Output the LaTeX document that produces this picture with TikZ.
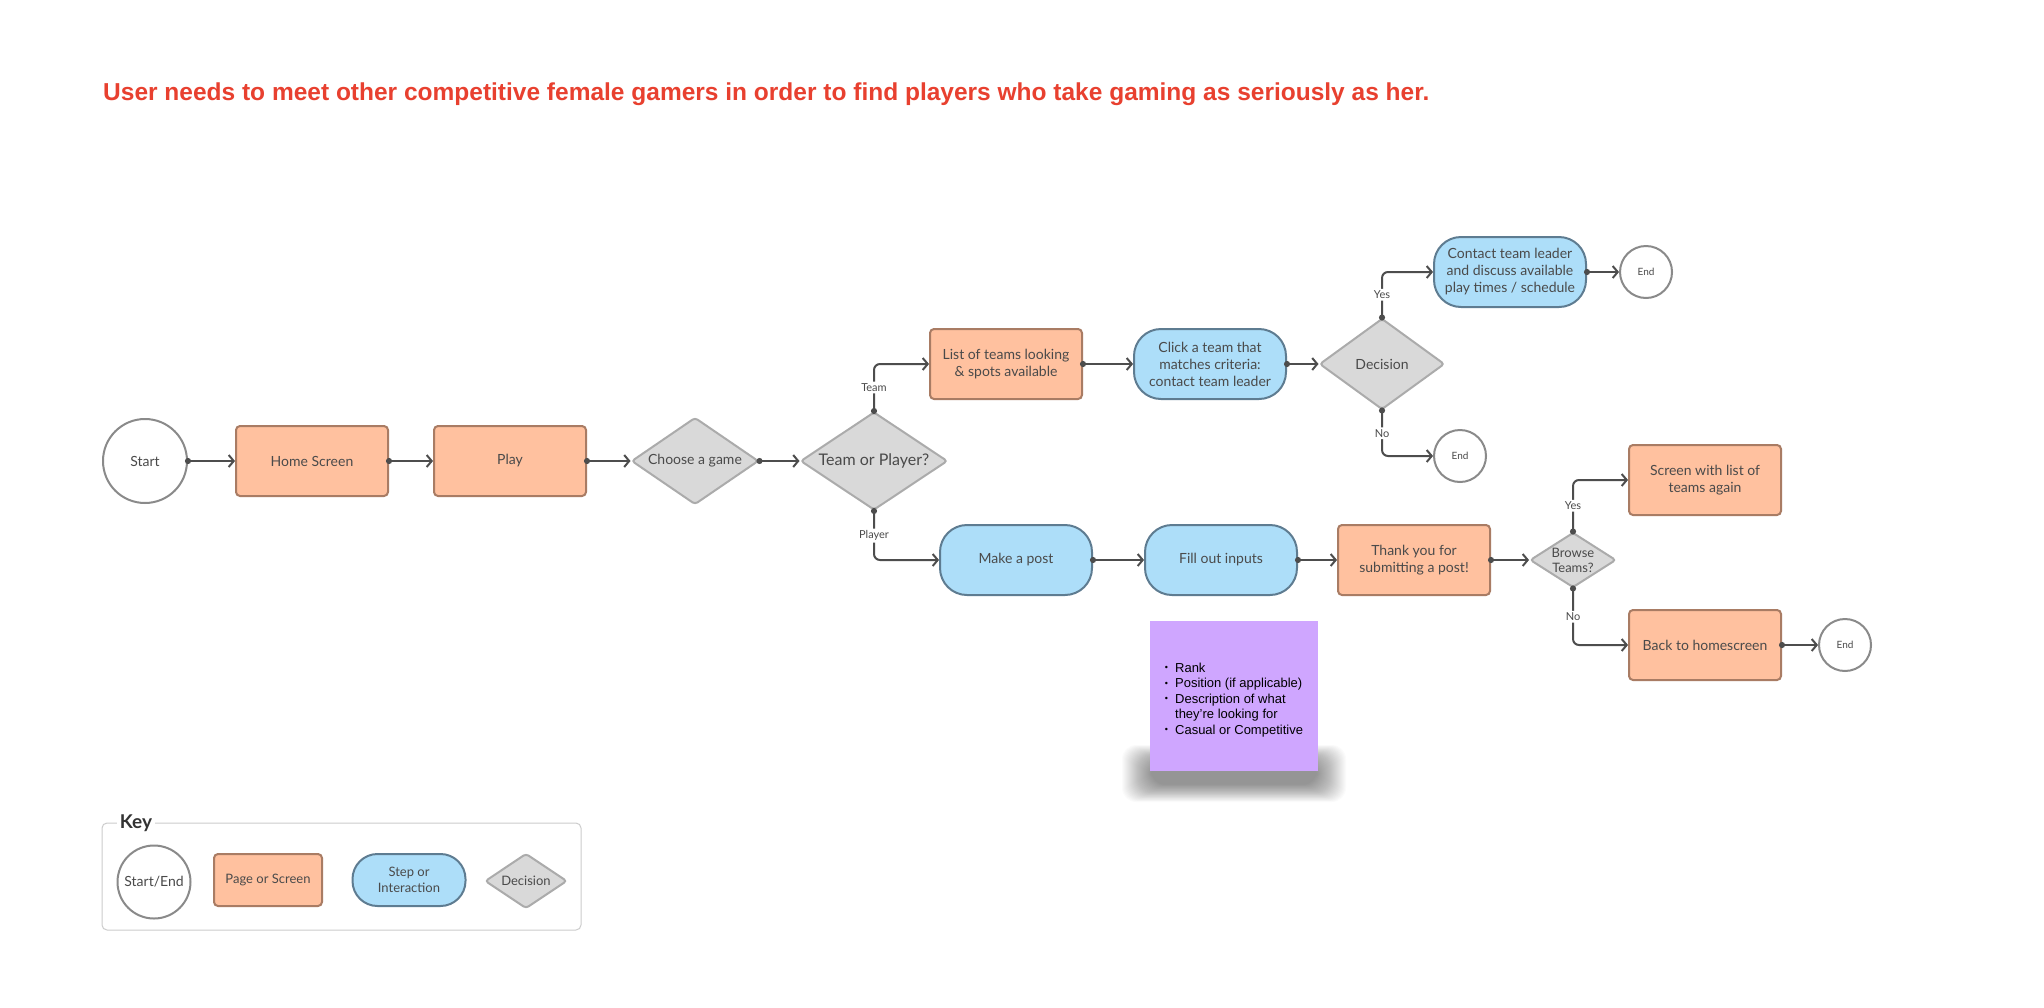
\documentclass[tikz,border=0pt]{standalone}
\usepackage{fontspec}
\usepackage{xcolor}
\usepackage{tikz}
\usetikzlibrary{arrows.meta, positioning}
\usetikzlibrary{shapes.geometric}
\setmainfont{Lato}
\newfontfamily\titlefont{Liberation Sans}
\newfontfamily\notefont{Liberation Sans}

\definecolor{pagefill}{HTML}{FFC19F}
\definecolor{pageline}{HTML}{A97C64}
\definecolor{stepfill}{HTML}{ADDEF9}
\definecolor{stepline}{HTML}{5E7C91}
\definecolor{decfill}{HTML}{D9D9D9}
\definecolor{decline}{HTML}{ABABAB}
\definecolor{termline}{HTML}{8A8A8A}
\definecolor{flowgray}{HTML}{4D4D4D}
\definecolor{txtgray}{HTML}{4A4A4A}
\definecolor{notefill}{HTML}{CFA6FF}
\definecolor{titlered}{HTML}{E8402F}
\definecolor{keyline}{HTML}{CCCCCC}

\newcommand{\notedot}{\raisebox{0.2ex}{\fontsize{9}{9}\selectfont\textbullet}}

\tikzset{
  every node/.style={font=\fontsize{14}{17}\selectfont, text=txtgray},
  pagebox/.style={draw=pageline, fill=pagefill, line width=2pt, rounded corners=4pt,
    minimum width=152pt, minimum height=70pt, align=center},
  stepbox/.style={draw=stepline, fill=stepfill, line width=2pt, rounded corners=27pt,
    minimum width=152pt, minimum height=70pt, align=center},
  decision/.style={diamond, draw=decline, fill=decfill, line width=2pt, rounded corners=3pt,
    inner sep=0pt},
  terminal/.style={circle, draw=termline, fill=white, line width=2pt, inner sep=0pt},
  flow/.style={draw=flowgray, line width=2pt, {Circle[length=6pt]}-{Straight Barb[length=5pt,width=12pt]},
    shorten <=-3pt},
  elbow/.style={flow, rounded corners=6pt},
  lbl/.style={fill=white, font=\fontsize{11}{13}\selectfont, inner sep=2pt},
}

\begin{document}
\begin{tikzpicture}[x=1pt, y=-1pt]
  \useasboundingbox[fill=white] (0,0) rectangle (2044,1007);

  \node[anchor=base west, inner sep=0pt, text=titlered, font=\titlefont\bfseries\fontsize{24.5}{29}\selectfont] (title) at (103,100)
    {User needs to meet other competitive female gamers in order to find players who take gaming as seriously as her.};

  % main flow
  \node[terminal, minimum size=84pt] (start) at (145,461) {Start};
  \node[pagebox] (home) at (312,461) {Home Screen};
  \node[pagebox] (play) at (510,461) {Play};
  \node[decision, minimum width=127pt, minimum height=87pt, label=center:Choose a game] (game) at (695,461) {};
  \node[decision, minimum width=147pt, minimum height=98pt,
    label={[font=\fontsize{16}{19}\selectfont]center:Team or Player?}] (role) at (874,461) {};

  % team branch
  \node[pagebox] (teams) at (1006,364) {List of teams looking\\ \& spots available};
  \node[stepbox] (click) at (1210,364) {Click a team that\\ matches criteria:\\ contact team leader};
  \node[decision, minimum width=125pt, minimum height=91pt, label=center:Decision] (dec) at (1382,364) {};
  \node[stepbox] (contact) at (1510,272) {Contact team leader\\ and discuss available\\ play times / schedule};
  \node[terminal, minimum size=52pt, font=\fontsize{10}{12}\selectfont] (endA) at (1646,272) {End};
  \node[terminal, minimum size=52pt, font=\fontsize{10}{12}\selectfont] (endB) at (1460,456) {End};

  % player branch
  \node[stepbox] (post) at (1016,560) {Make a post};
  \node[stepbox] (inputs) at (1221,560) {Fill out inputs};
  \node[pagebox] (thanks) at (1414,560) {Thank you for\\ submitting a post!};
  \node[decision, minimum width=86pt, minimum height=55pt,
    label={[align=center, font=\fontsize{13}{15}\selectfont]center:Browse\\ Teams?}] (browse) at (1573,560) {};
  \node[pagebox] (again) at (1705,480) {Screen with list of\\ teams again};
  \node[pagebox] (back) at (1705,645) {Back to homescreen};
  \node[terminal, minimum size=52pt, font=\fontsize{10}{12}\selectfont] (endC) at (1845,645) {End};

  \draw[flow] (start) -- (home);
  \draw[flow] (home) -- (play);
  \draw[flow] (play) -- (game);
  \draw[flow] (game) -- (role);
  \draw[elbow] (role.north) |- node[lbl, pos=0.25] {Team} (teams.west);
  \draw[flow] (teams) -- (click);
  \draw[flow] (click) -- (dec);
  \draw[elbow] (dec.north) |- node[lbl, pos=0.25] {Yes} (contact.west);
  \draw[elbow] (dec.south) |- node[lbl, pos=0.25] {No} (endB.west);
  \draw[flow] (contact) -- (endA);
  \draw[elbow] (role.south) |- node[lbl, pos=0.25] {Player} (post.west);
  \draw[flow] (post) -- (inputs);
  \draw[flow] (inputs) -- (thanks);
  \draw[flow] (thanks) -- (browse);
  \draw[elbow] (browse.north) |- node[lbl, pos=0.25] {Yes} (again.west);
  \draw[elbow] (browse.south) |- node[lbl, pos=0.25] {No} (back.west);
  \draw[flow] (back) -- (endC);

  % sticky note
  \foreach \k in {0,...,29}
    \fill[black, opacity=0.015, rounded corners=14pt]
      ({1122+\k},{745+0.6*\k}) rectangle ({1346-\k},{802-0.6*\k});
  \node[fill=notefill, minimum width=168pt, minimum height=150pt] (note) at (1234,696) {};
  \node[text=black, font=\notefont\fontsize{13}{15.5}\selectfont] (notetext) at ([yshift=-4pt]note.center)
    {\begin{tabular}{@{}l@{\hspace{7pt}}l@{}}
      \notedot & Rank\\
      \notedot & Position (if applicable)\\
      \notedot & Description of what\\
               & they’re looking for\\
      \notedot & Casual or Competitive
    \end{tabular}};

  % key
  \node[draw=keyline, line width=1pt, rounded corners=5pt, minimum width=479pt, minimum height=107pt] (keybox) at (341.5,876.5) {};
  \node[fill=white, inner sep=3pt, text=black!80, font=\bfseries\fontsize{19}{22}\selectfont] (keytitle) at (136,823) {Key};
  \node[terminal, minimum size=73pt] (keyterm) at (154,882) {Start/End};
  \node[pagebox, minimum width=108pt, minimum height=52pt, font=\fontsize{13}{16}\selectfont] (keypage) at (268,880) {Page or Screen};
  \node[stepbox, minimum width=113pt, minimum height=52pt, rounded corners=25pt, font=\fontsize{13}{16}\selectfont] (keystep) at (409,880) {Step or\\ Interaction};
  \node[decision, minimum width=82pt, minimum height=55pt,
    label={[font=\fontsize{13}{16}\selectfont]center:Decision}] (keydec) at (526,881) {};
\end{tikzpicture}
\end{document}
